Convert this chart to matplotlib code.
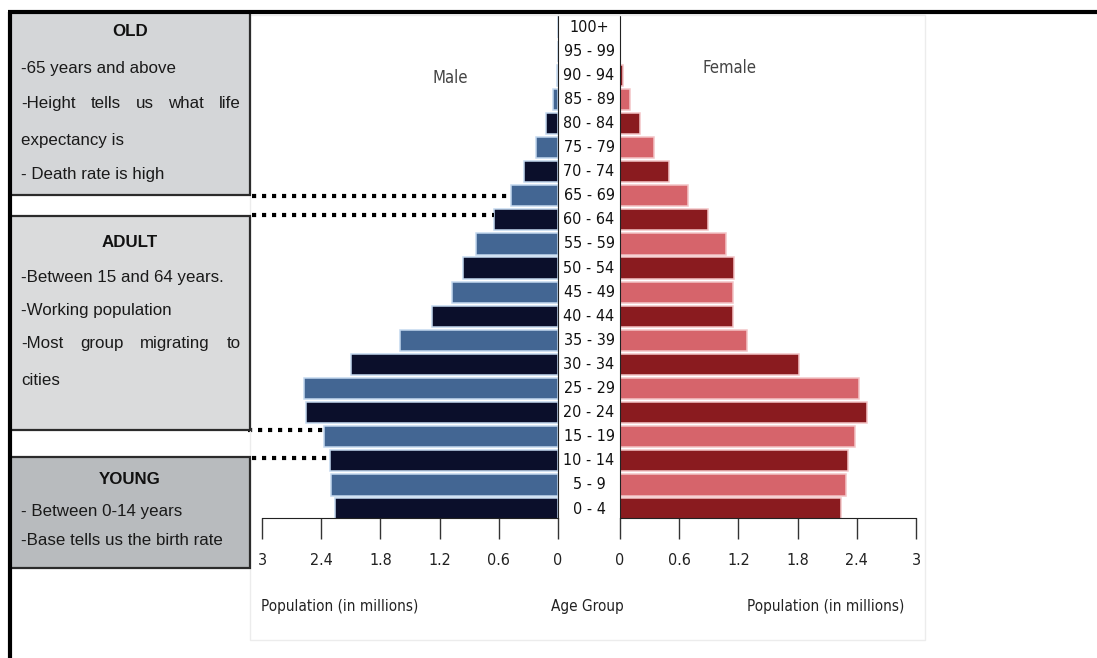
import matplotlib
matplotlib.use("Agg")
import matplotlib.pyplot as plt
from matplotlib.patches import Rectangle
from matplotlib.lines import Line2D
import matplotlib.transforms as mtransforms
from matplotlib import font_manager

# ---- data -------------------------------------------------------------
age_groups = ["0 - 4", "5 - 9", "10 - 14", "15 - 19", "20 - 24", "25 - 29",
              "30 - 34", "35 - 39", "40 - 44", "45 - 49", "50 - 54", "55 - 59",
              "60 - 64", "65 - 69", "70 - 74", "75 - 79", "80 - 84", "85 - 89",
              "90 - 94", "95 - 99", "100+"]
male = [2.26, 2.30, 2.31, 2.37, 2.55, 2.57, 2.10, 1.60, 1.28, 1.07, 0.96,
        0.83, 0.65, 0.48, 0.34, 0.22, 0.12, 0.05, 0.01, 0.0, 0.0]
female = [2.24, 2.29, 2.31, 2.38, 2.50, 2.42, 1.81, 1.29, 1.15, 1.15, 1.16,
          1.07, 0.89, 0.69, 0.50, 0.34, 0.20, 0.10, 0.03, 0.0, 0.0]
tick_values = [0, 0.6, 1.2, 1.8, 2.4, 3]
tick_labels = ["0", "0.6", "1.2", "1.8", "2.4", "3"]

# ---- fonts ------------------------------------------------------------
available = {f.name for f in font_manager.fontManager.ttflist}
narrow = "Liberation Sans Narrow" if "Liberation Sans Narrow" in available else "Liberation Sans"
box_size = 13.5 if narrow == "Liberation Sans Narrow" else 12.2
plt.rcParams["font.family"] = ["DejaVu Sans"]

W, H = 1097, 658
fig = plt.figure(figsize=(W / 100, H / 100), dpi=100)
fig.patch.set_facecolor("white")


def fx(x):
    return x / W


def fy(y):
    return 1 - y / H


def add_axes_px(x0, y0, x1, y1):
    return fig.add_axes([fx(x0), fy(y1), fx(x1) - fx(x0), fy(y0) - fy(y1)])


# ---- pyramid axes -----------------------------------------------------
ax_m = add_axes_px(262, 15, 558, 518)
ax_f = add_axes_px(620, 15, 916, 518)

male_cols = ["#0b0f2b" if i % 2 == 0 else "#436693" for i in range(len(age_groups))]
female_cols = ["#8a1b1f" if i % 2 == 0 else "#d6646b" for i in range(len(age_groups))]
ypos = list(range(len(age_groups)))

ax_m.barh(ypos, male, height=0.88, color=male_cols, edgecolor="#c4d8ef", linewidth=1.1)
ax_f.barh(ypos, female, height=0.88, color=female_cols, edgecolor="#f3c4c6", linewidth=1.1)

for ax in (ax_m, ax_f):
    ax.set_xlim(0, 3)
    ax.set_ylim(-0.37, 20.5)
    ax.set_yticks([])
    ax.set_xticks(tick_values)
    ax.set_xticklabels(tick_labels, fontsize=11.5, fontstretch="condensed", color="#222222")
    ax.tick_params(axis="x", direction="out", length=15, width=1, color="#333333", pad=10)
    ax.spines["top"].set_visible(False)
    ax.patch.set_alpha(0)
ax_m.invert_xaxis()
ax_m.spines["left"].set_visible(False)
ax_f.spines["right"].set_visible(False)
for sp in ("right", "bottom"):
    ax_m.spines[sp].set_color("#222222")
for sp in ("left", "bottom"):
    ax_f.spines[sp].set_color("#222222")

ax_m.text(0.635, 0.875, "Male", transform=ax_m.transAxes, ha="center", va="center",
          fontsize=12, color="#444444", fontstretch="condensed")
ax_f.text(0.37, 0.895, "Female", transform=ax_f.transAxes, ha="center", va="center",
          fontsize=12, color="#444444", fontstretch="condensed")

# age group labels in the central column
lab_tr = mtransforms.blended_transform_factory(fig.transFigure, ax_m.transData)
for i, lab in enumerate(age_groups):
    fig.text(fx(589), i, lab, transform=lab_tr, ha="center", va="center",
             fontsize=11.5, fontstretch="condensed", color="#111111")

# axis captions
fig.text(fx(340), fy(607), "Population (in millions)", ha="center", va="center",
         fontsize=11, fontstretch="condensed", color="#222222")
fig.text(fx(587), fy(607), "Age Group", ha="center", va="center",
         fontsize=11, fontstretch="condensed", color="#222222")
fig.text(fx(826), fy(607), "Population (in millions)", ha="center", va="center",
         fontsize=11, fontstretch="condensed", color="#222222")

# faint frame around the chart area
fig.add_artist(Rectangle((fx(250), fy(640)), fx(925) - fx(250), fy(15) - fy(640),
                         transform=fig.transFigure, fill=False, edgecolor="#ececec", lw=1))

# ---- dotted connectors from the boxes to the bars ---------------------
dot_style = dict(color="black", lw=3.0, linestyle=(0, (1, 1.4)),
                 solid_capstyle="butt", dash_capstyle="butt", clip_on=False)
idx65 = age_groups.index("65 - 69")
idx60 = age_groups.index("60 - 64")
idx15 = age_groups.index("15 - 19")
idx10 = age_groups.index("10 - 14")
ax_m.plot([3.1, male[idx65]], [idx65, idx65], **dot_style)
ax_m.plot([3.1, male[idx60]], [idx60 + 0.2, idx60 + 0.2], **dot_style)
ax_m.plot([3.14, male[idx15]], [idx15 + 0.3, idx15 + 0.3], **dot_style)
ax_m.plot([3.1, male[idx10]], [idx10 + 0.1, idx10 + 0.1], **dot_style)

# ---- explanatory boxes ------------------------------------------------
renderer = fig.canvas.get_renderer()
BASE_SHIFT = 5  # baseline sits a few pixels below the visual line centre


def box(x0, y0, x1, y1, face):
    fig.add_artist(Rectangle((fx(x0), fy(y1)), fx(x1) - fx(x0), fy(y0) - fy(y1),
                             transform=fig.transFigure, facecolor=face,
                             edgecolor="#2b2b2b", lw=1.6))


def line_text(x, y, s, **kw):
    return fig.text(fx(x), fy(y + BASE_SHIFT), s, ha="left", va="baseline", family=narrow,
                    fontsize=box_size, color="#1a1a1a", **kw)


def justified(x0, x1, y, s):
    words = s.split()
    arts = [line_text(x0, y, w) for w in words]
    widths = [a.get_window_extent(renderer).width for a in arts]
    gap = (x1 - x0 - sum(widths)) / (len(words) - 1)
    cur = x0
    for a, w in zip(arts, widths):
        a.set_x(fx(cur))
        cur += w + gap


def title(x0, x1, s, y):
    fig.text(fx((x0 + x1) / 2), fy(y + BASE_SHIFT), s, ha="center", va="baseline",
             family=narrow, fontsize=box_size, fontweight="bold", color="#111111")


box(10, 12, 250, 195, "#d4d6d8")
title(10, 250, "OLD", 31)
line_text(21, 68, "-65 years and above")
justified(21, 241, 103, "-Height tells us what life")
line_text(21, 140, "expectancy is")
line_text(21, 174, "- Death rate is high")

box(10, 216, 250, 430, "#dadbdc")
title(10, 250, "ADULT", 242)
line_text(21, 277, "-Between 15 and 64 years.")
line_text(21, 310, "-Working population")
justified(21, 241, 343, "-Most group migrating to")
line_text(21, 380, "cities")

box(10, 457, 250, 568, "#b8bbbe")
title(10, 250, "YOUNG", 479)
line_text(21, 511, "- Between 0-14 years")
line_text(21, 540, "-Base tells us the birth rate")

# ---- heavy outer border (top and left) --------------------------------
fig.add_artist(Line2D([fx(8), 1.0], [fy(12), fy(12)], transform=fig.transFigure,
                      color="black", lw=3, solid_capstyle="butt"))
fig.add_artist(Line2D([fx(10), fx(10)], [fy(12), 0.0], transform=fig.transFigure,
                      color="black", lw=3, solid_capstyle="butt"))

fig.savefig("out.png", dpi=100)
